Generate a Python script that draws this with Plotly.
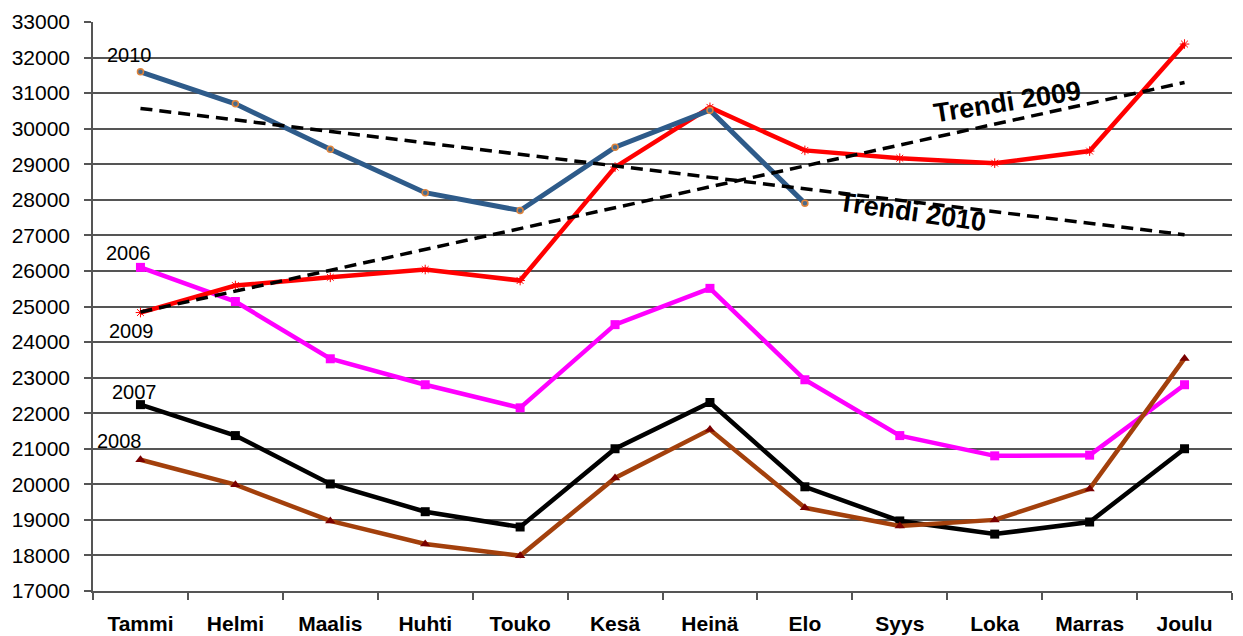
import numpy as np
import plotly.graph_objects as go

months = ["Tammi", "Helmi", "Maalis", "Huhti", "Touko", "Kesä", "Heinä", "Elo", "Syys", "Loka", "Marras", "Joulu"]
v2006 = [26100, 25140, 23530, 22800, 22150, 24490, 25510, 22940, 21370, 20800, 20820, 22800]
v2007 = [22240, 21370, 20010, 19230, 18800, 21000, 22300, 19930, 18970, 18600, 18940, 21000]
v2008 = [20690, 19990, 18970, 18320, 17990, 20180, 21540, 19340, 18830, 19000, 19870, 23540]
v2009 = [24830, 25590, 25820, 26040, 25730, 28920, 30600, 29390, 29170, 29030, 29370, 32380]
v2010 = [31600, 30700, 29420, 28200, 27700, 29480, 30520, 27900]
y_ticks = list(range(17000, 33001, 1000))

OFF = 8  # page body margin
W, H = 1243 - OFF, 636 - OFF
ML, MR, MT, MB = 93 - OFF, 11, 22 - OFF, 45
PW, PH = W - ML - MR, H - MT - MB


def px(xp, yp):
    # screen pixel -> paper coordinates
    return (xp - OFF - ML) / PW, (H - MB - (yp - OFF)) / PH


def trend(vals):
    idx = np.arange(1, len(vals) + 1)
    slope, icpt = np.polyfit(idx, vals, 1)
    full = np.arange(1, 13)
    return list(slope * full + icpt)


FONT = "Liberation Sans, Arial"

fig = go.Figure()
fig.add_trace(go.Scatter(x=months, y=v2006, mode="lines+markers", name="2006",
                         line=dict(color="#FF00FF", width=4.5),
                         marker=dict(symbol="square", size=9, color="#FF00FF")))
fig.add_trace(go.Scatter(x=months, y=v2007, mode="lines+markers", name="2007",
                         line=dict(color="#000000", width=4.5),
                         marker=dict(symbol="square", size=9, color="#000000")))
fig.add_trace(go.Scatter(x=months, y=v2008, mode="lines+markers", name="2008",
                         line=dict(color="#A3400C", width=4.5),
                         marker=dict(symbol="triangle-up", size=9, color="#7A0000")))
fig.add_trace(go.Scatter(x=months, y=v2009, mode="lines+markers", name="2009",
                         line=dict(color="#FF0000", width=4.5),
                         marker=dict(symbol="asterisk-open", size=8, line=dict(color="#FF3030", width=1))))
fig.add_trace(go.Scatter(x=months[:len(v2010)], y=v2010, mode="lines+markers", name="2010",
                         line=dict(color="#2E5B8A", width=5),
                         marker=dict(symbol="circle", size=6, color="#4A6A8A",
                                     line=dict(color="#E0843A", width=1.5))))
fig.add_trace(go.Scatter(x=months, y=trend(v2009), mode="lines", name="Trendi 2009",
                         line=dict(color="#000000", width=3.5, dash="12px,7px")))
fig.add_trace(go.Scatter(x=months, y=trend(v2010), mode="lines", name="Trendi 2010",
                         line=dict(color="#000000", width=3.5, dash="12px,7px")))

annots = []
for txt, xp, yp in [("2010", 129, 55), ("2006", 128, 253), ("2009", 131, 331),
                    ("2007", 134, 392), ("2008", 119, 441)]:
    ax, ay = px(xp, yp)
    annots.append(dict(text=txt, x=ax, y=ay, xref="paper", yref="paper", showarrow=False,
                       xanchor="center", yanchor="middle",
                       font=dict(family=FONT, size=20, color="#000000")))
for txt, xp, yp, ang in [("Trendi 2009", 1007, 102, -9), ("Trendi 2010", 912, 212, 8)]:
    ax, ay = px(xp, yp)
    annots.append(dict(text="<b>" + txt + "</b>", x=ax, y=ay, xref="paper", yref="paper",
                       showarrow=False, xanchor="center", yanchor="middle", textangle=ang,
                       font=dict(family=FONT, size=27, color="#000000")))

fig.update_layout(
    width=W, height=H,
    margin=dict(l=ML, r=MR, t=MT, b=MB, autoexpand=False),
    paper_bgcolor="white", plot_bgcolor="white",
    showlegend=False,
    annotations=annots,
    xaxis=dict(type="category", categoryorder="array", categoryarray=months,
               range=[-0.5, 11.5], tickson="boundaries", ticks="outside", ticklen=7,
               tickcolor="#555555", tickwidth=1.5, automargin=False,
               showline=True, linecolor="#555555", linewidth=1.5, showgrid=False,
               ticklabelstandoff=13,
               tickfont=dict(family=FONT, size=21, color="#000000", weight="bold")),
    yaxis=dict(range=[17000, 33000], tickvals=y_ticks, ticktext=[str(t) for t in y_ticks],
               ticks="outside", ticklen=7, tickcolor="#555555", tickwidth=1.5,
               showline=True, linecolor="#555555", linewidth=1.5, automargin=False,
               showgrid=True, gridcolor="#555555", gridwidth=1.5, zeroline=False,
               ticklabelstandoff=10,
               tickfont=dict(family=FONT, size=21, color="#000000")),
)

fig.write_html("out.html")
